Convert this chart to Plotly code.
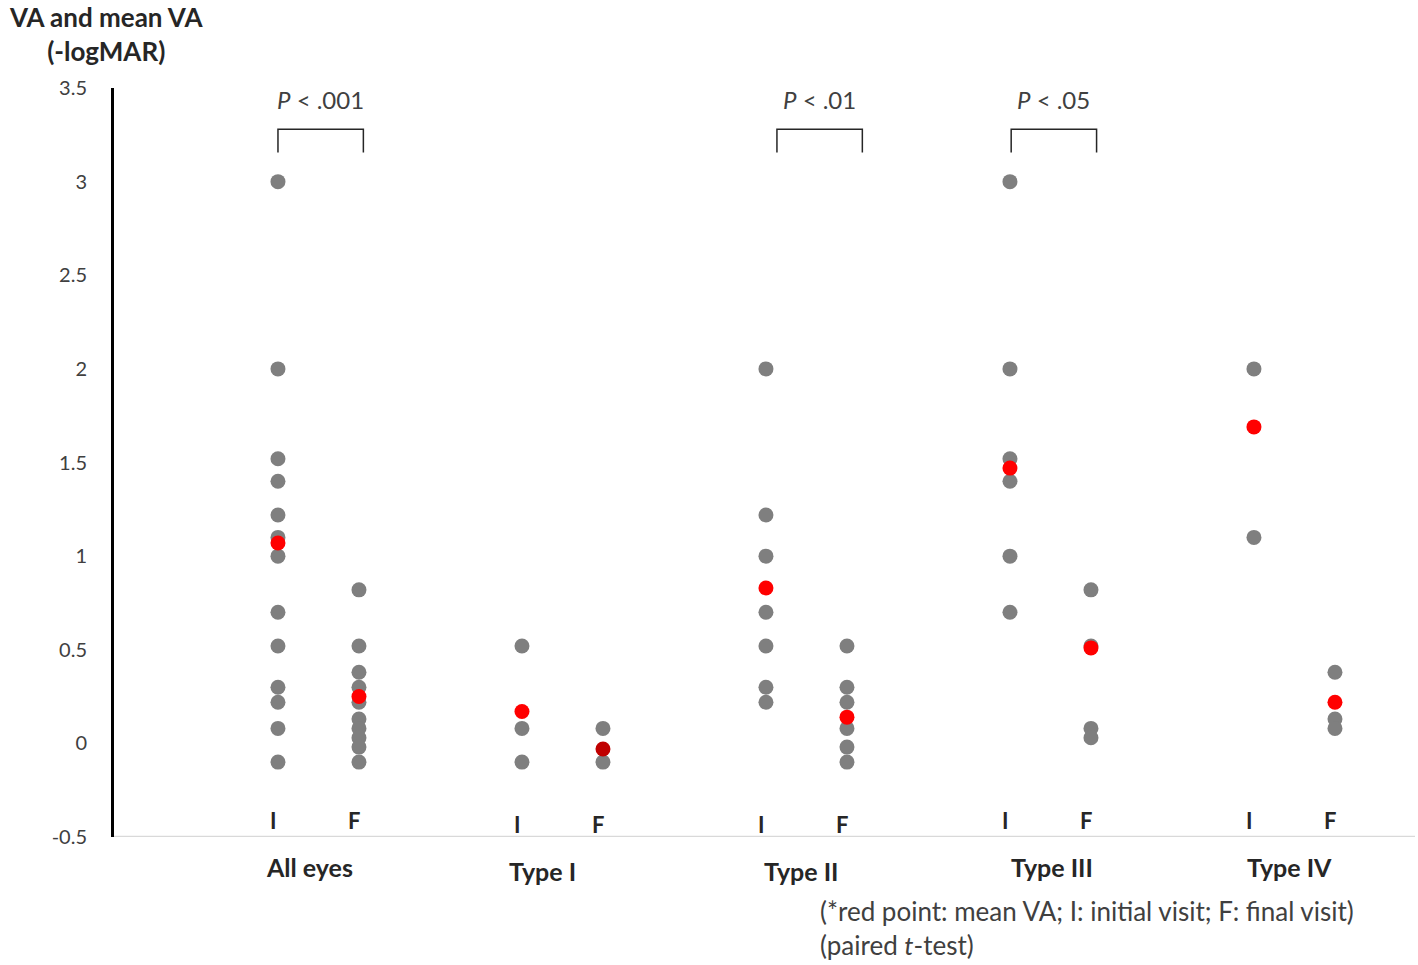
import plotly.graph_objects as go

# ---- data ----
groups = ["All eyes", "Type I", "Type II", "Type III", "Type IV"]
initial_va = [
    [3.0, 2.0, 1.52, 1.4, 1.22, 1.1, 1.0, 0.7, 0.52, 0.3, 0.22, 0.08, -0.1],
    [0.52, 0.08, -0.1],
    [2.0, 1.22, 1.0, 0.7, 0.52, 0.3, 0.22],
    [3.0, 2.0, 1.52, 1.4, 1.0, 0.7],
    [2.0, 1.1],
]
final_va = [
    [0.82, 0.52, 0.38, 0.3, 0.22, 0.13, 0.08, 0.03, -0.02, -0.1],
    [0.08, -0.1],
    [0.52, 0.3, 0.22, 0.08, -0.02, -0.1],
    [0.82, 0.52, 0.08, 0.03],
    [0.38, 0.13, 0.08],
]
mean_initial = [1.07, 0.17, 0.83, 1.47, 1.69]
mean_final = [0.25, -0.03, 0.14, 0.51, 0.22]
p_labels = ["< .001", None, "< .01", "< .05", None]
visit_labels = ["I", "F"]
y_ticks = [-0.5, 0, 0.5, 1, 1.5, 2, 2.5, 3, 3.5]

# ---- style ----
OFF = 0.166
GRAY = "#7F7F7F"
RED = "#FF0000"
DARKRED = "#C00000"
FONT = "Lato, 'Open Sans', sans-serif"
TXT = "#262626"
label_shift = [-9, -20, -5, 2, -5]
if_px = [820, 824, 824, 820, 820]      # vertical centre (px) of I/F labels
cat_px = [867, 871, 871, 867, 867]     # vertical centre (px) of group labels

W, H = 1418, 965
ML, MR, MT, MB = 114, 3, 88, 128
pw, ph = W - ML - MR, H - MT - MB


def py(px):
    return (H - MB - px) / ph


def px_x(px):
    return (px - ML) / pw


fig = go.Figure()

xs, ys = [], []
for g, vals in enumerate(initial_va):
    xs += [g - OFF] * len(vals)
    ys += vals
for g, vals in enumerate(final_va):
    xs += [g + OFF] * len(vals)
    ys += vals
fig.add_trace(go.Scatter(x=xs, y=ys, mode="markers",
                         marker=dict(color=GRAY, size=15, line=dict(width=0)),
                         showlegend=False, hoverinfo="y"))

mx, my, mc = [], [], []
for g in range(len(groups)):
    mx += [g - OFF, g + OFF]
    my += [mean_initial[g], mean_final[g]]
    mc += [RED, DARKRED if g == 1 else RED]
fig.add_trace(go.Scatter(x=mx, y=my, mode="markers",
                         marker=dict(color=mc, size=15, line=dict(width=0)),
                         showlegend=False, hoverinfo="y"))

annotations = []
shapes = []
for g, name in enumerate(groups):
    annotations.append(dict(x=g, y=py(cat_px[g]), xref="x", yref="paper",
                            text="<b>" + name + "</b>", showarrow=False,
                            xshift=label_shift[g], yanchor="middle",
                            font=dict(family=FONT, size=25, color=TXT)))
    for k, lab in enumerate(visit_labels):
        annotations.append(dict(x=g + (-OFF if k == 0 else OFF) - 0.02, y=py(if_px[g]),
                                xref="x", yref="paper", yanchor="middle",
                                text="<b>" + lab + "</b>", showarrow=False,
                                font=dict(family=FONT, size=22, color=TXT)))
    if p_labels[g]:
        x0 = g - OFF + (0.045 if g == 2 else 0.005 if g == 3 else 0)
        x1 = x0 + 0.35
        shapes.append(dict(type="path", xref="x", yref="y",
                           path=f"M {x0} 3.155 L {x0} 3.28 L {x1} 3.28 L {x1} 3.155",
                           line=dict(color=TXT, width=1.5)))
        annotations.append(dict(x=(x0 + x1) / 2, y=3.44, xref="x", yref="y",
                                text="<i>P</i> " + p_labels[g], showarrow=False,
                                font=dict(family=FONT, size=24, color="#404040")))

annotations.append(dict(x=px_x(106), y=py(34), xref="paper", yref="paper",
                        xanchor="center", yanchor="middle", align="center",
                        text="<b>VA and mean VA<br>(-logMAR)</b>", showarrow=False,
                        font=dict(family=FONT, size=26, color=TXT)))
annotations.append(dict(x=px_x(818), y=py(893), xref="paper", yref="paper",
                        showarrow=False,
                        text="(*red point: mean VA; I: initial visit; F: final visit)<br>(paired <i>t</i>-test)",
                        xanchor="left", yanchor="top", align="left",
                        font=dict(family=FONT, size=26, color="#404040")))

fig.update_layout(
    width=W, height=H,
    margin=dict(l=ML, r=MR, t=MT, b=MB),
    plot_bgcolor="white", paper_bgcolor="white",
    showlegend=False,
    annotations=annotations, shapes=shapes,
    xaxis=dict(range=[-0.838, 4.494], showgrid=False, zeroline=False,
               showticklabels=False, ticks="", showline=False),
    yaxis=dict(range=[-0.5, 3.5], tickvals=y_ticks,
               ticktext=[f"{v:g}" for v in y_ticks],
               showgrid=False, zeroline=False, showline=True,
               linecolor="black", linewidth=3, ticks="",
               ticklabelstandoff=20,
               tickfont=dict(family=FONT, size=20, color="#404040")),
)
# x-axis baseline (light gray)
fig.add_shape(type="line", xref="paper", yref="y", x0=0, x1=1, y0=-0.5, y1=-0.5,
              line=dict(color="#D9D9D9", width=2.5))

fig.write_html("out.html", config={"displayModeBar": False},
               post_script="document.body.style.margin='0';document.body.style.padding='0';")
